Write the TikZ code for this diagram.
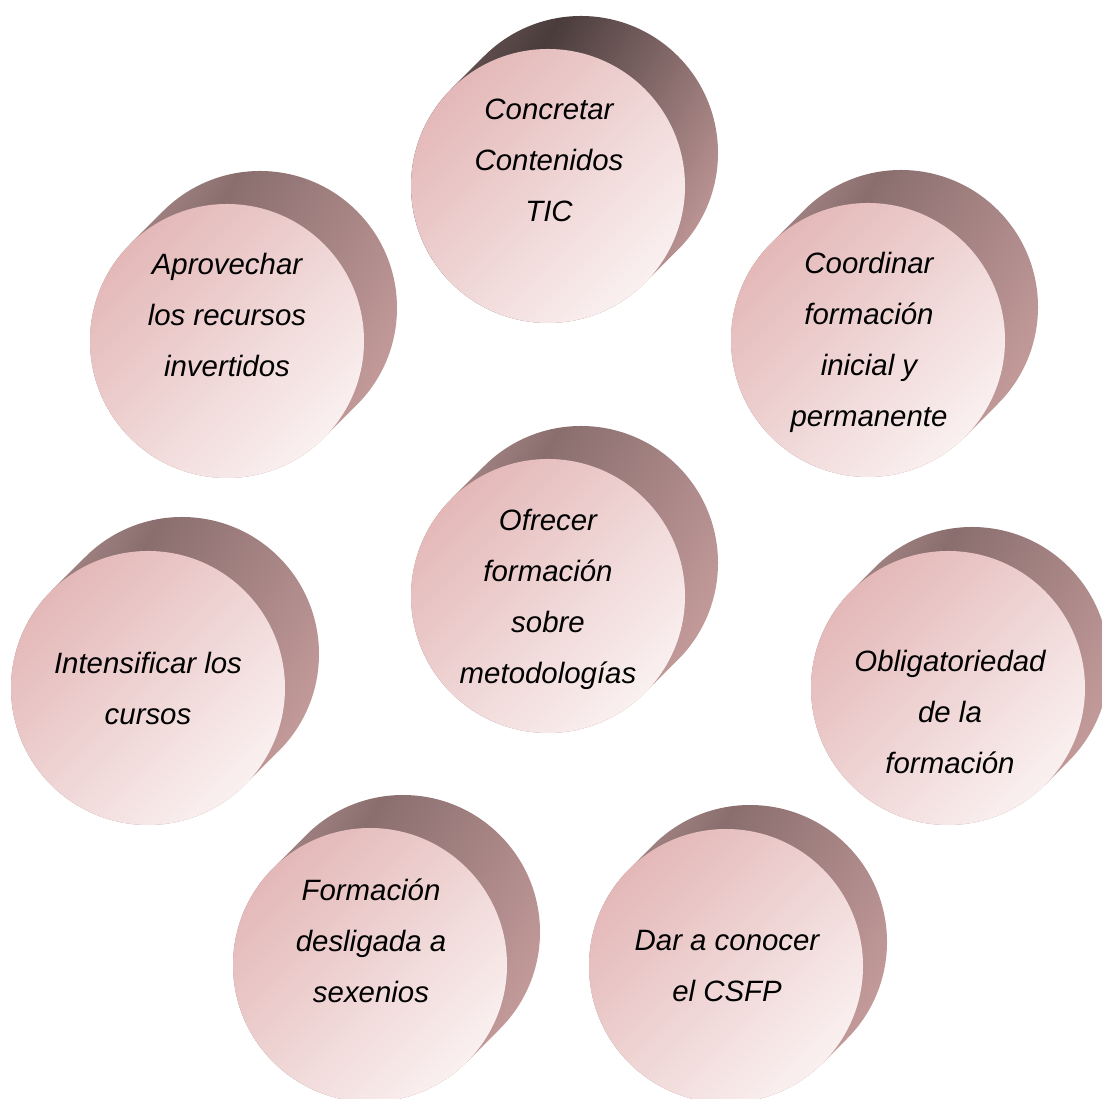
\documentclass[tikz,border=0pt]{standalone}
\usepackage{fontspec}
\setmainfont{Liberation Sans}
\usetikzlibrary{calc}
\definecolor{fa}{RGB}{228,184,184}
\definecolor{fb}{RGB}{250,240,240}
\definecolor{ba0}{RGB}{110,88,88}
\definecolor{ba1}{RGB}{74,60,60}
\definecolor{ba2}{RGB}{198,156,156}
\definecolor{bb0}{RGB}{172,140,140}
\definecolor{bb1}{RGB}{138,110,110}
\definecolor{bb2}{RGB}{200,158,158}
\pgfdeclarehorizontalshading{frontsh}{100bp}{color(0bp)=(fa); color(25bp)=(fa); color(75bp)=(fb); color(100bp)=(fb)}
\pgfdeclarehorizontalshading{backsha}{100bp}{color(0bp)=(ba0); color(25bp)=(ba0); color(38bp)=(ba1); color(75bp)=(ba2); color(100bp)=(ba2)}
\pgfdeclarehorizontalshading{backshb}{100bp}{color(0bp)=(bb0); color(25bp)=(bb0); color(38bp)=(bb1); color(75bp)=(bb2); color(100bp)=(bb2)}
\tikzset{
  frontcirc/.style={circle, minimum size=274pt, inner sep=0pt, shading=frontsh, shading angle=-45},
  label text/.style={align=center, inner sep=0pt, font=\fontsize{29.4}{51}\selectfont\itshape, text=black},
}
% #1 name, #2 x, #3 y, #4 offset, #5 back shading, #6 text x, #7 text y, #8 text
\newcommand\cylshape[8]{%
  \coordinate (#1c) at (#2,#3);
  \coordinate (#1b) at ($(#2,#3)+(#4,#4)$);
  \path[shading=#5, shading angle=-30]
    ($(#1c)+(-45:137)$) -- ($(#1b)+(-45:137)$)
    arc[start angle=-45, end angle=135, radius=137]
    -- ($(#1c)+(135:137)$)
    arc[start angle=135, end angle=315, radius=137] -- cycle;
  \node[frontcirc] (#1) at (#1c) {};
  \node[label text] (#1t) at (#6,#7) {#8};
}
\begin{document}
\begin{tikzpicture}[x=1pt,y=1pt]
\useasboundingbox (0,0) rectangle (1102,1099);
\cylshape{concretar}{548}{913}{33}{backsha}{549}{939}{Concretar\\Contenidos\\TIC}
\cylshape{aprovechar}{227}{758}{33}{backshb}{227}{784}{Aprovechar\\los recursos\\invertidos}
\cylshape{coordinar}{868}{759}{33}{backshb}{869}{757}{Coordinar\\formación\\inicial y\\permanente}
\cylshape{ofrecer}{548}{503}{33}{backshb}{548}{500}{Ofrecer\\formación\\sobre\\metodologías}
\cylshape{intensificar}{148}{411}{34}{backshb}{148}{411}{Intensificar los\\cursos}
\cylshape{obligatoriedad}{948}{411}{24}{backshb}{950}{387}{Obligatoriedad\\de la\\formación}
\cylshape{formacion}{370}{134}{33}{backshb}{371}{158}{Formación\\desligada a\\sexenios}
\cylshape{dar}{726}{133}{24}{backshb}{727}{133}{Dar a conocer\\el CSFP}
\end{tikzpicture}
\end{document}
